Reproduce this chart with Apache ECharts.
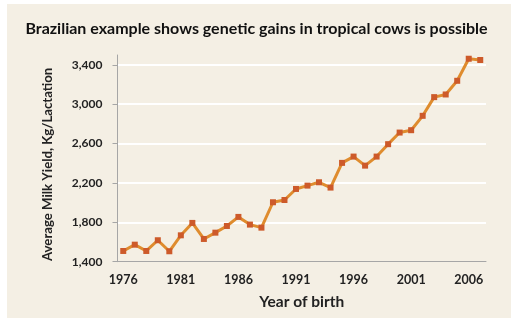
<!DOCTYPE html>
<html>
<head>
<meta charset="utf-8">
<script src="https://cdn.jsdelivr.net/npm/echarts@6/dist/echarts.min.js"></script>
<style>
  html, body { margin: 0; padding: 0; background: #ffffff; }
  #chart { width: 513px; height: 321px; }
</style>
</head>
<body>
<div id="chart"></div>
<script>
// Year of birth (category axis)
const years = [];
for (let y = 1976; y <= 2007; y++) years.push(String(y));

// Average milk yield per lactation, kg
const milkYield = [
  1509, 1573, 1509, 1618, 1506, 1668, 1794, 1631, 1695, 1763,
  1855, 1777, 1746, 2004, 2027, 2139, 2173, 2207, 2153, 2404,
  2468, 2376, 2468, 2594, 2712, 2736, 2882, 3072, 3099, 3238,
  3462, 3449
];

const titleText = 'Brazilian example shows genetic gains in tropical cows is possible';
const yAxisTitle = 'Average Milk Yield, Kg/Lactation';
const xAxisTitle = 'Year of birth';

const FONT = 'Lato, "Open Sans", sans-serif';

const chart = echarts.init(document.getElementById('chart'), null, { renderer: 'canvas' });

chart.setOption({
  backgroundColor: '#ffffff',
  animation: false,
  graphic: [{
    type: 'rect',
    z: -10,
    shape: { x: 7, y: 4, width: 504, height: 314 },
    style: { fill: '#f4efe4' }
  }],
  title: {
    text: titleText,
    left: 'center',
    top: 16,
    textStyle: { fontFamily: FONT, fontWeight: 'bold', fontSize: 16, color: '#111111' }
  },
  grid: { left: 117.5, right: 27, top: 55, bottom: 59.3 },
  xAxis: {
    type: 'category',
    data: years,
    boundaryGap: true,
    name: xAxisTitle,
    nameLocation: 'middle',
    nameGap: 32,
    nameTextStyle: { fontFamily: FONT, fontWeight: 'bold', fontSize: 15.5, color: '#222222' },
    axisLine: { lineStyle: { color: '#a6a6a6', width: 1 } },
    axisTick: { interval: 4, length: 4, lineStyle: { color: '#a6a6a6' } },
    axisLabel: {
      interval: 4,
      margin: 12,
      fontFamily: FONT, fontWeight: 'bold', fontSize: 12.5, color: '#222222'
    },
    splitLine: { show: false }
  },
  yAxis: {
    type: 'value',
    min: 1400,
    max: 3500,
    interval: 400,
    name: yAxisTitle,
    nameLocation: 'middle',
    nameGap: 63,
    nameRotate: 90,
    nameTextStyle: {
      fontFamily: FONT, fontWeight: 'bold', fontSize: 13.2, color: '#222222',
      padding: [0, 12, 0, 0]
    },
    axisLine: { show: true, lineStyle: { color: '#a6a6a6', width: 1 } },
    axisTick: { show: true, length: 5, lineStyle: { color: '#a6a6a6' } },
    axisLabel: {
      margin: 15,
      showMaxLabel: false,
      fontFamily: FONT, fontWeight: 'bold', fontSize: 12, color: '#222222',
      formatter: v => v.toLocaleString('en-US')
    },
    splitLine: {
      show: true,
      lineStyle: {
        color: ['transparent', '#ffffff', '#ffffff', '#ffffff', '#ffffff', '#ffffff', 'transparent'],
        width: 2
      }
    }
  },
  series: [{
    type: 'line',
    data: milkYield,
    symbol: 'rect',
    symbolSize: 6,
    clip: false,
    lineStyle: { color: '#df8c2e', width: 3 },
    itemStyle: { color: '#cd5a2a' }
  }]
});
</script>
</body>
</html>
